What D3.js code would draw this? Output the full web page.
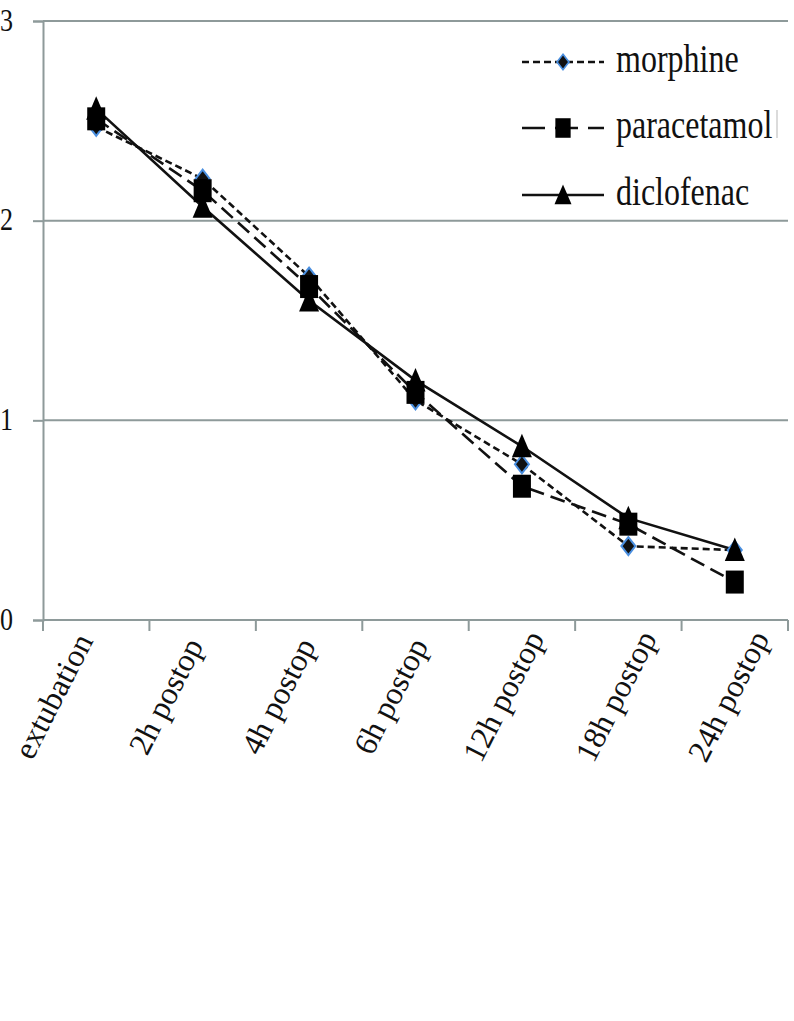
<!DOCTYPE html>
<html>
<head>
<meta charset="utf-8">
<script src="https://cdn.jsdelivr.net/npm/d3@7"></script>
<style>
body { margin: 0; background: #fff; }
text { font-family: 'Liberation Serif', 'Times New Roman', serif; fill: #111; }
</style>
</head>
<body>
<svg id="chart" width="794" height="1021"></svg>
<script>
// data
const categories = ['extubation', '2h postop', '4h postop', '6h postop', '12h postop', '18h postop', '24h postop'];
const morphine = [2.47, 2.21, 1.72, 1.10, 0.78, 0.37, 0.35];
const paracetamol = [2.51, 2.15, 1.67, 1.14, 0.67, 0.48, 0.19];
const diclofenac = [2.56, 2.07, 1.60, 1.20, 0.87, 0.51, 0.35];
const yTicks = [0, 1, 2, 3];
const seriesNames = ['morphine', 'paracetamol', 'diclofenac'];

const svg = d3.select('#chart');
const plotLeft = 43, plotRight = 788, plotTop = 21, plotBottom = 620;
const gridColor = '#8e9a9a';

const x = d3.scalePoint().domain(categories).range([plotLeft, plotRight]).padding(0.5);
const y = d3.scaleLinear().domain([0, 3]).range([plotBottom, plotTop]);
// labels sit slightly wider than the ticks in the original
const xLabel = d3.scalePoint().domain(categories).range([57, 732]);

// gridlines
svg.append('g').selectAll('line').data(yTicks).enter().append('line')
	.attr('x1', plotLeft).attr('x2', plotRight).attr('y1', (d) => y(d)).attr('y2', (d) => y(d))
	.attr('stroke', gridColor).attr('stroke-width', 2);

// y axis
const yAxis = svg.append('g').attr('transform', `translate(${plotLeft},0)`)
	.call(d3.axisLeft(y).tickValues(yTicks).tickSize(10).tickFormat(d3.format('d')));
yAxis.select('.domain').attr('stroke', gridColor).attr('stroke-width', 2);
yAxis.selectAll('.tick line').attr('stroke', gridColor).attr('stroke-width', 2);
yAxis.selectAll('.tick text').attr('x', null).attr('dy', null)
	.attr('transform', 'translate(-30,9) scale(1,1.25)')
	.attr('font-size', 26).attr('font-family', 'Liberation Serif').attr('fill', '#111');

// x axis (ticks at band edges)
const edges = d3.range(categories.length + 1).map((i) => plotLeft + i * x.step());
svg.append('line').attr('x1', plotLeft).attr('x2', plotRight).attr('y1', plotBottom).attr('y2', plotBottom)
	.attr('stroke', gridColor).attr('stroke-width', 2);
svg.append('g').selectAll('line').data(edges).enter().append('line')
	.attr('x1', (d) => d).attr('x2', (d) => d).attr('y1', plotBottom).attr('y2', plotBottom + 11)
	.attr('stroke', gridColor).attr('stroke-width', 2);
svg.append('g').selectAll('text').data(categories).enter().append('text')
	.attr('transform', (d) => `translate(${xLabel(d) + 6},${701}) rotate(-63)`)
	.attr('text-anchor', 'middle').attr('font-size', 32).text((d) => d);

// markers
const markerShape = {
	diamond: (g) => g.append('path').attr('d', 'M0,-9L7,0L0,9L-7,0Z')
		.attr('fill', '#111').attr('stroke', '#4a8fe0').attr('stroke-width', 2),
	square: (g) => g.append('path').attr('d', 'M-9,-11.5h18v23h-18Z').attr('fill', '#000'),
	triangle: (g) => g.append('path').attr('d', 'M0,-12.5L10,11L-10,11Z').attr('fill', '#000'),
};

const series = [
	{ name: seriesNames[0], values: morphine, dash: '7,4', legendDash: '7,4', marker: 'diamond' },
	{ name: seriesNames[1], values: paracetamol, dash: '15,7', legendDash: '23,10', marker: 'square' },
	{ name: seriesNames[2], values: diclofenac, dash: null, legendDash: null, marker: 'triangle' },
];

const line = d3.line().x((d, i) => x(categories[i])).y((d) => y(d));
svg.append('g').selectAll('path').data(series).enter().append('path')
	.attr('d', (s) => line(s.values)).attr('fill', 'none').attr('stroke', '#111')
	.attr('stroke-width', 2.6).attr('stroke-dasharray', (s) => s.dash);

// marker order: diamond, triangle, square (squares on top)
[series[0], series[2], series[1]].forEach((s) => {
	s.values.forEach((v, i) => {
		const g = svg.append('g').attr('transform', `translate(${x(categories[i])},${y(v)})`);
		markerShape[s.marker](g);
	});
});

// legend
const legendRows = [62, 128, 195];
const legend = svg.append('g');
series.forEach((s, i) => {
	const ly = legendRows[i];
	legend.append('line').attr('x1', 522).attr('x2', 604).attr('y1', ly).attr('y2', ly)
		.attr('stroke', '#111').attr('stroke-width', 2.6).attr('stroke-dasharray', s.legendDash);
	const g = legend.append('g').attr('transform', `translate(563,${ly}) scale(0.85)`);
	markerShape[s.marker](g);
	legend.append('text').attr('transform', `translate(616,${ly + 10}) scale(1,1.27)`)
		.attr('font-size', 32).text(s.name);
});
legend.append('line').attr('x1', 777).attr('x2', 777).attr('y1', 110).attr('y2', 138)
	.attr('stroke', '#cfcfcf').attr('stroke-width', 1.5);
</script>
</body>
</html>
